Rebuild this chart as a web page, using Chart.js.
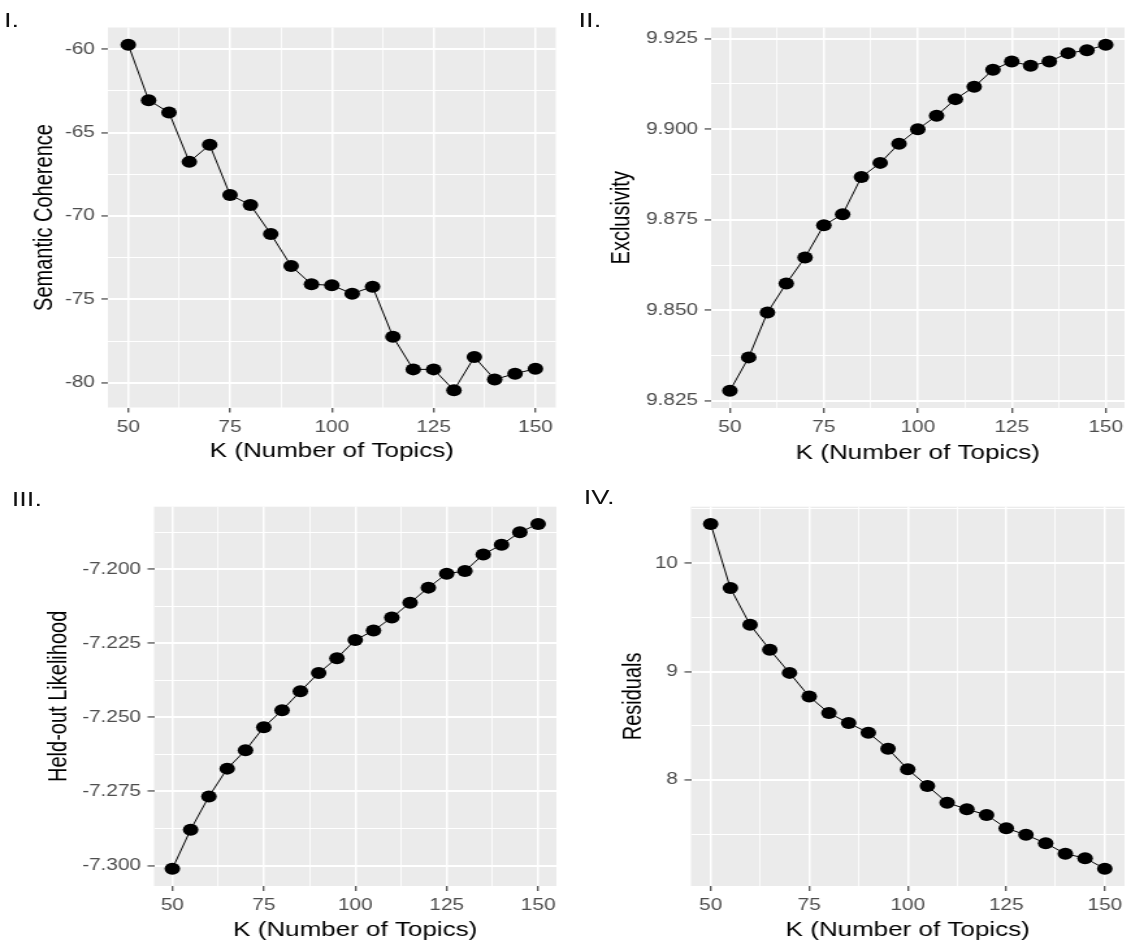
<!DOCTYPE html>
<html lang="en">
<head>
    <meta charset="UTF-8">
    <title>Topic model diagnostics</title>
    <script src="https://cdn.jsdelivr.net/npm/chart.js"></script>
    <style>
        body { margin: 0; background: #fff; overflow: hidden; }
        /* the reference figure is stretched sideways, so everything is drawn narrow and scaled */
        #wrap { position: absolute; left: 0; top: 0; width: 872px; height: 945px;
                transform: scaleX(1.3); transform-origin: 0 0; }
        #wrap canvas { position: absolute; }
        .lbl { position: absolute; font: 21px "Liberation Sans", Arial, sans-serif; line-height: 1; color: #111; }
    </style>
</head>
<body>
    <div id="wrap">
        <div class="lbl" style="left:3px;top:9px">I.</div>
        <div class="lbl" style="left:445px;top:9px">II.</div>
        <div class="lbl" style="left:9px;top:488px">III.</div>
        <div class="lbl" style="left:449px;top:486px">IV.</div>
        <canvas id="c1" width="435" height="470" style="left:0;top:0"></canvas>
        <canvas id="c2" width="436" height="470" style="left:435px;top:0"></canvas>
        <canvas id="c3" width="435" height="475" style="left:0;top:470px"></canvas>
        <canvas id="c4" width="436" height="475" style="left:435px;top:470px"></canvas>
    </div>

    <script>
        // values
        const kTopics = [50, 55, 60, 65, 70, 75, 80, 85, 90, 95, 100, 105, 110, 115, 120, 125, 130, 135, 140, 145, 150];
        const semCoherence = [-59.74, -63.06, -63.8, -66.76, -65.74, -68.74, -69.34, -71.08, -73.0, -74.1, -74.16,
                              -74.66, -74.24, -77.24, -79.2, -79.2, -80.45, -78.46, -79.8, -79.46, -79.16];
        const exclusivity = [9.8278, 9.8370, 9.8494, 9.8574, 9.8646, 9.8735, 9.8765, 9.8868, 9.8907, 9.8960, 9.9000,
                             9.9037, 9.9083, 9.9117, 9.9164, 9.9187, 9.9175, 9.9187, 9.9210, 9.9218, 9.9233];
        const heldOut = [-7.3011, -7.2879, -7.2767, -7.2673, -7.2611, -7.2533, -7.2476, -7.2412, -7.2350, -7.2300, -7.2239,
                         -7.2207, -7.2163, -7.2113, -7.2062, -7.2015, -7.2006, -7.1950, -7.1917, -7.1875, -7.1847];
        const residuals = [10.362, 9.770, 9.432, 9.202, 8.988, 8.770, 8.617, 8.525, 8.436, 8.288, 8.098,
                           7.945, 7.791, 7.730, 7.678, 7.555, 7.494, 7.417, 7.319, 7.279, 7.181];

        // tick labels
        const xTicks = [50, 75, 100, 125, 150];
        const yTicks1 = [-80, -75, -70, -65, -60];
        const yTicks2 = [9.825, 9.850, 9.875, 9.900, 9.925];
        const yTicks3 = [-7.300, -7.275, -7.250, -7.225, -7.200];
        const yTicks4 = [8, 9, 10];

        const FONT = '"Liberation Sans", Arial, sans-serif';

        // grey ggplot-like panel behind the grid
        const panelBg = {
            id: 'panelBg',
            beforeDraw(chart) {
                const a = chart.chartArea;
                chart.ctx.save();
                chart.ctx.fillStyle = '#ebebeb';
                chart.ctx.fillRect(a.left, a.top, a.right - a.left, a.bottom - a.top);
                chart.ctx.restore();
            }
        };

        // ggplot pads the data range by 5% on each side
        function expanded(values) {
            const lo = Math.min(...values), hi = Math.max(...values);
            const pad = (hi - lo) * 0.05;
            return [lo - pad, hi + pad];
        }

        function axisOpts(major, range, decimals, title, titlePad, size, horizontal) {
            const sorted = major.slice().sort((a, b) => a - b);
            const step = sorted[1] - sorted[0];
            const minor = [sorted[0] - step / 2].concat(sorted.map(v => v + step / 2))
                .filter(v => v > range[0] && v < range[1]);
            const all = sorted.concat(minor).sort((a, b) => a - b);
            const isMajor = v => sorted.some(m => Math.abs(m - v) < 1e-9);
            const majorW = horizontal ? 1.5 : 1.9;
            const minorW = horizontal ? 0.8 : 1;

            return {
                type: 'linear',
                min: range[0],
                max: range[1],
                afterBuildTicks: s => { s.ticks = all.map(v => ({ value: v })); },
                afterFit: s => { if (horizontal) s.height = size; else s.width = size; },
                ticks: {
                    autoSkip: false,
                    maxRotation: 0,
                    color: '#4d4d4d',
                    font: { family: FONT, size: 16 },
                    padding: horizontal ? 5 : 5,
                    callback: v => isMajor(v) ? v.toFixed(decimals) : ''
                },
                grid: {
                    color: '#ffffff',
                    lineWidth: c => isMajor(c.tick.value) ? majorW : minorW,
                    tickLength: 5,
                    tickColor: c => isMajor(c.tick.value) ? '#333333' : 'rgba(0,0,0,0)',
                    tickWidth: c => isMajor(c.tick.value) ? 1.1 : 0.5
                },
                border: { display: false },
                title: {
                    display: true,
                    text: title,
                    color: '#000',
                    font: { family: FONT, size: 20 },
                    padding: horizontal ? { top: 0, bottom: titlePad } : { top: titlePad, bottom: 0 }
                }
            };
        }

        function makePanel(id, yData, yTicks, decimals, yTitle, box) {
            new Chart(document.getElementById(id), {
                type: 'scatter',
                data: {
                    datasets: [{
                        data: kTopics.map((k, i) => ({ x: k, y: yData[i] })),
                        showLine: true,
                        borderColor: '#000',
                        borderWidth: 1,
                        pointRadius: 6,
                        pointHoverRadius: 6,
                        pointBorderWidth: 0,
                        pointBackgroundColor: '#000'
                    }]
                },
                options: {
                    responsive: false,
                    animation: false,
                    events: [],
                    layout: { padding: { left: 0, top: box.top, right: box.right, bottom: 0 } },
                    plugins: { legend: { display: false }, tooltip: { enabled: false } },
                    scales: {
                        x: axisOpts(xTicks, expanded(kTopics), 0, 'K (Number of Topics)', box.xTitlePad, box.bottom, true),
                        y: axisOpts(yTicks, expanded(yData), decimals, yTitle, box.yTitlePad, box.left, false)
                    }
                },
                plugins: [panelBg]
            });
        }

        makePanel('c1', semCoherence, yTicks1, 0, 'Semantic Coherence',
                  { left: 83, right: 7.5, top: 27.5, bottom: 62.5, xTitlePad: 7, yTitlePad: 22 });
        makePanel('c2', exclusivity, yTicks2, 3, 'Exclusivity',
                  { left: 112, right: 1, top: 27.5, bottom: 62, xTitlePad: 5, yTitlePad: 31.5 });
        makePanel('c3', heldOut, yTicks3, 3, 'Held-out Likelihood',
                  { left: 118.5, right: 7, top: 36.7, bottom: 59, xTitlePad: 3, yTitlePad: 33.5 });
        makePanel('c4', residuals, yTicks4, 0, 'Residuals',
                  { left: 96.5, right: 2.5, top: 36.7, bottom: 59, xTitlePad: 3, yTitlePad: 40.5 });
    </script>
</body>
</html>
